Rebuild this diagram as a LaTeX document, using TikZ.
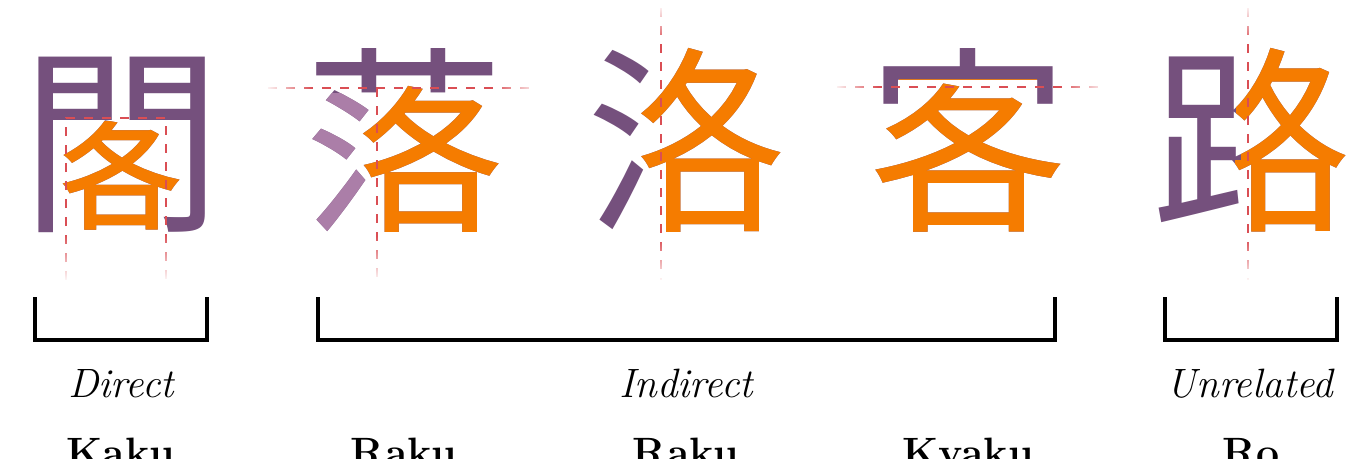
\documentclass[tikz,border=0pt]{standalone}
\usepackage{fontspec}
\newfontfamily\cjk{Noto Sans CJK JP}
\usetikzlibrary{fadings}
\definecolor{kpurple}{RGB}{117,80,125}
\definecolor{klight}{RGB}{171,126,168}
\definecolor{korange}{RGB}{245,124,0}
\definecolor{kred}{RGB}{218,78,84}
\tikzfading[name=fadedown, top color=transparent!100, bottom color=transparent!0]
\tikzfading[name=fadeup, top color=transparent!0, bottom color=transparent!100]
\tikzfading[name=fadeleft, left color=transparent!0, right color=transparent!100]
\tikzfading[name=faderight, left color=transparent!100, right color=transparent!0]
\tikzset{
  glyph/.style={inner sep=0pt, anchor=base, font={\cjk\fontsize{200pt}{200pt}\selectfont}},
  guide/.style={draw=kred, line width=2.7pt, dash pattern=on 9pt off 9pt},
  bracket/.style={draw=black, line width=4pt},
  cat/.style={inner sep=0pt, anchor=base, font={\fontsize{41pt}{41pt}\selectfont\itshape}},
  reading/.style={inner sep=0pt, anchor=base, font={\fontsize{41pt}{41pt}\selectfont\bfseries}},
}
\begin{document}
\begin{tikzpicture}[x=1pt,y=-1pt]
\useasboundingbox (0,0) rectangle (1351,458);
% ---- glyphs: whole glyph in purple, component overlays clipped
\node[glyph, text=kpurple] (g1) at (121,216) {閣};
\begin{scope}
  \clip (53,120.5) -- (187,120.5) -- (187,210) -- (162,210) -- (162,245) -- (53,245) -- cycle;
  \node[glyph, text=korange] (g1o) at (121,216) {閣};
\end{scope}
\node[glyph, text=kpurple] (g2) at (404,216) {落};
\begin{scope}
  \clip (250,92.5) -- (386,92.5) -- (358,136) -- (361,160) -- (370,178) -- (379,182) -- (379,260) -- (250,260) -- cycle;
  \node[glyph, text=klight] (g2l) at (404,216) {落};
\end{scope}
\begin{scope}
  \clip (379,76.5) -- (428,76.5) -- (428,92.5) -- (520,92.5) -- (520,260) -- (379,260) -- (379,182) -- (370,178) -- (361,160) -- (358,136) -- (386,92.5) -- (379,92.5) -- cycle;
  \node[glyph, text=korange] (g2o) at (404,216) {落};
\end{scope}
\node[glyph, text=kpurple] (g3) at (686,216) {洛};
\begin{scope}
  \clip (656,0) -- (800,0) -- (800,260) -- (660,260) -- (660,176) -- (647,170) -- (636,152) -- (638,126) -- (645,124) -- (636,110) -- (656,80) -- cycle;
  \node[glyph, text=korange] (g3o) at (686,216) {洛};
\end{scope}
\node[glyph, text=kpurple] (g4) at (968,216) {客};
\begin{scope}
  \clip (899,78.5) -- (1036,78.5) -- (1036,106) -- (1080,106) -- (1080,260) -- (860,260) -- (860,106) -- (899,106) -- cycle;
  \node[glyph, text=korange] (g4o) at (968,216) {客};
\end{scope}
\node[glyph, text=kpurple] (g5) at (1251,216) {路};
\begin{scope}
  \clip (1235.5,0) -- (1351,0) -- (1351,260) -- (1246,260) -- (1246,173) -- (1235,173) -- (1235,159.5) -- (1240.5,159.5) -- (1240.5,120) -- (1235.5,120) -- cycle;
  \node[glyph, text=korange] (g5o) at (1251,216) {路};
\end{scope}
% ---- guide lines
\draw[guide] (66,280) -- (66,118) -- (166,118) -- (166,280);
\draw[guide] (268,88) -- (536,88);
\draw[guide] (377,88) -- (377,280);
\draw[guide] (661,8) -- (661,280);
\draw[guide] (837,87) -- (1103,87);
\draw[guide] (1248,8) -- (1248,280);
% ---- fading ends of the guide lines
\fill[white, path fading=fadedown] (58,234) rectangle (74,282);
\fill[white, path fading=fadedown] (158,234) rectangle (174,282);
\fill[white, path fading=fadedown] (369,236) rectangle (385,282);
\fill[white, path fading=fadedown] (653,238) rectangle (669,282);
\fill[white, path fading=fadedown] (1240,238) rectangle (1256,282);
\fill[white, path fading=fadeup] (653,4) rectangle (669,44);
\fill[white, path fading=fadeup] (1240,4) rectangle (1256,44);
\fill[white, path fading=fadeleft] (264,80) rectangle (312,96);
\fill[white, path fading=faderight] (492,80) rectangle (540,96);
\fill[white, path fading=fadeleft] (833,79) rectangle (878,95);
\fill[white, path fading=faderight] (1060,79) rectangle (1107,95);
% ---- brackets
\draw[bracket] (35,297) -- (35,340) -- (207,340) -- (207,297);
\draw[bracket] (318,297) -- (318,340) -- (1055,340) -- (1055,297);
\draw[bracket] (1165,297) -- (1165,340) -- (1337,340) -- (1337,297);
% ---- labels
\node[cat] (c1) at (121,397) {Direct};
\node[cat] (c2) at (686,397) {Indirect};
\node[cat] (c3) at (1250,397) {Unrelated};
\node[reading] (r1) at (121,466) {Kaku};
\node[reading] (r2) at (404,466) {Raku};
\node[reading] (r3) at (686,466) {Raku};
\node[reading] (r4) at (968,466) {Kyaku};
\node[reading] (r5) at (1251,466) {Ro};
\end{tikzpicture}
\end{document}
